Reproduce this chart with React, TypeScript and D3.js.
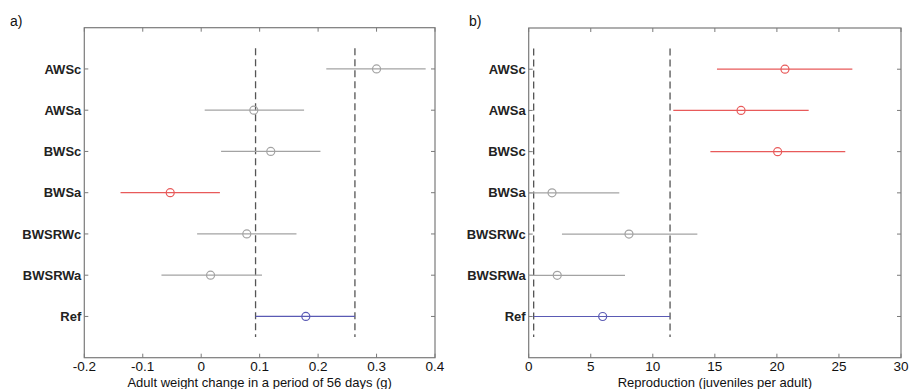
import React from "react";
import * as d3 from "d3";

const categories = ["AWSc", "AWSa", "BWSc", "BWSa", "BWSRWc", "BWSRWa", "Ref"];

const weightMean = [0.3, 0.09, 0.119, -0.053, 0.078, 0.016, 0.179];
const weightLow = [0.214, 0.006, 0.034, -0.138, -0.007, -0.068, 0.093];
const weightHigh = [0.384, 0.176, 0.204, 0.032, 0.163, 0.104, 0.263];
const weightStatus = ["ns", "ns", "ns", "sig", "ns", "ns", "ref"];
const weightRefBand = [0.093, 0.263];
const weightTicks = [-0.2, -0.1, 0, 0.1, 0.2, 0.3, 0.4];

const reproMean = [20.65, 17.11, 20.06, 1.88, 8.08, 2.3, 5.96];
const reproLow = [15.17, 11.65, 14.64, -3.5, 2.68, -3.2, 0.4];
const reproHigh = [26.08, 22.56, 25.51, 7.3, 13.59, 7.76, 11.39];
const reproStatus = ["sig", "sig", "sig", "ns", "ns", "ns", "ref"];
const reproRefBand = [0.4, 11.39];
const reproTicks = [0, 5, 10, 15, 20, 25, 30];

const statusColor: Record<string, string> = {
  ns: "#a3a3a3",
  sig: "#e85a5a",
  ref: "#5a5ab4",
};

const FONT = "Liberation Sans, Arial, sans-serif";

type PanelProps = {
  id: string;
  tag: string;
  left: number;
  right: number;
  top: number;
  bottom: number;
  domain: [number, number];
  ticks: number[];
  mean: number[];
  low: number[];
  high: number[];
  status: string[];
  refBand: number[];
  xLabel: string;
  tagX: number;
};

function Panel(p: PanelProps) {
  const x = d3.scaleLinear().domain(p.domain).range([p.left, p.right]);
  const y = d3.scaleLinear().domain([0, categories.length + 1]).range([p.top, p.bottom]);
  const tickLen = 4;
  const fmt = (v: number) => (Math.abs(v) < 1e-9 ? "0" : String(+v.toFixed(2)));
  return (
    <g>
      <defs>
        <clipPath id={`clip-${p.id}`}>
          <rect x={p.left} y={p.top} width={p.right - p.left} height={p.bottom - p.top} />
        </clipPath>
      </defs>
      <text x={p.tagX} y={26} fontSize={14} fontFamily={FONT} fill="#111">
        {p.tag}
      </text>
      <rect
        x={p.left}
        y={p.top}
        width={p.right - p.left}
        height={p.bottom - p.top}
        fill="none"
        stroke="#7a7a7a"
        strokeWidth={1.2}
      />
      {p.ticks.map((t, i) => (
        <g key={`xt${i}`}>
          <line x1={x(t)} x2={x(t)} y1={p.bottom} y2={p.bottom - tickLen} stroke="#7a7a7a" />
          <line x1={x(t)} x2={x(t)} y1={p.top} y2={p.top + tickLen} stroke="#7a7a7a" />
          <text
            x={x(t)}
            y={371}
            textAnchor="middle"
            fontSize={13.5}
            fontFamily={FONT}
            fill="#111"
          >
            {fmt(t)}
          </text>
        </g>
      ))}
      {categories.map((c, i) => (
        <g key={`yt${i}`}>
          <line x1={p.left} x2={p.left + tickLen} y1={y(i + 1)} y2={y(i + 1)} stroke="#7a7a7a" />
          <line x1={p.right} x2={p.right - tickLen} y1={y(i + 1)} y2={y(i + 1)} stroke="#7a7a7a" />
          <text
            x={p.left - 3}
            y={y(i + 1)}
            dy="0.35em"
            textAnchor="end"
            fontSize={13}
            fontWeight="bold"
            fontFamily={FONT}
            fill="#222"
          >
            {c}
          </text>
        </g>
      ))}
      <text
        x={(p.left + p.right) / 2}
        y={387}
        textAnchor="middle"
        fontSize={13}
        fontFamily={FONT}
        fill="#111"
      >
        {p.xLabel}
      </text>
      {p.refBand.map((v, i) => (
        <line
          key={`ref${i}`}
          x1={x(v)}
          x2={x(v)}
          y1={y(0.5)}
          y2={y(categories.length + 0.5)}
          stroke="#555"
          strokeWidth={1.3}
          strokeDasharray="7,4"
        />
      ))}
      <g clipPath={`url(#clip-${p.id})`}>
        {categories.map((c, i) => (
          <line
            key={`e${i}`}
            x1={x(p.low[i])}
            x2={x(p.high[i])}
            y1={y(i + 1)}
            y2={y(i + 1)}
            stroke={statusColor[p.status[i]]}
            strokeWidth={1.2}
          />
        ))}
      </g>
      {categories.map((c, i) => (
        <circle
          key={`m${i}`}
          cx={x(p.mean[i])}
          cy={y(i + 1)}
          r={4}
          fill="none"
          stroke={statusColor[p.status[i]]}
          strokeWidth={1.2}
        />
      ))}
    </g>
  );
}

export default function App() {
  return (
    <svg
      width={909}
      height={389}
      style={{ position: "absolute", left: 0, top: 0, background: "#fff" }}
    >
      <rect x={0} y={0} width={909} height={389} fill="#fff" />
      <Panel
        id="a"
        tag="a)"
        tagX={10}
        left={84.3}
        right={435}
        top={27.7}
        bottom={357.7}
        domain={[-0.2, 0.4]}
        ticks={weightTicks}
        mean={weightMean}
        low={weightLow}
        high={weightHigh}
        status={weightStatus}
        refBand={weightRefBand}
        xLabel="Adult weight change in a period of 56 days (g)"
      />
      <Panel
        id="b"
        tag="b)"
        tagX={469}
        left={528.7}
        right={901}
        top={28}
        bottom={357.7}
        domain={[0, 30]}
        ticks={reproTicks}
        mean={reproMean}
        low={reproLow}
        high={reproHigh}
        status={reproStatus}
        refBand={reproRefBand}
        xLabel="Reproduction (juveniles per adult)"
      />
    </svg>
  );
}
